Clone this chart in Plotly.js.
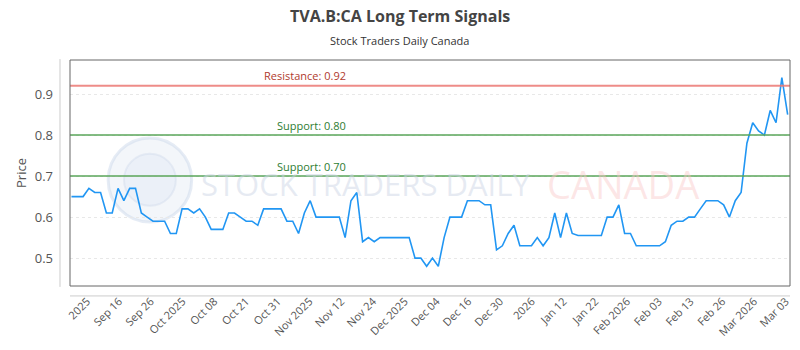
<!DOCTYPE html>
<html>
<head>
<meta charset="utf-8">
<script src="https://cdn.plot.ly/plotly-3.0.1.min.js"></script>
<style>html,body{margin:0;padding:0;background:#fff;}#chart{width:800px;height:350px;}</style>
</head>
<body>
<div id="chart"></div>
<script>
// ---- data ----
const prices = [
  0.65,0.65,0.65,0.67,0.66,0.66,0.61,0.61,0.67,0.64,
  0.67,0.67,0.61,0.60,0.59,0.59,0.59,0.56,0.56,0.62,
  0.62,0.61,0.62,0.60,0.57,0.57,0.57,0.61,0.61,0.60,
  0.59,0.59,0.58,0.62,0.62,0.62,0.62,0.59,0.59,0.56,
  0.61,0.64,0.60,0.60,0.60,0.60,0.60,0.55,0.64,0.66,
  0.54,0.55,0.54,0.55,0.55,0.55,0.55,0.55,0.55,0.50,
  0.50,0.48,0.50,0.48,0.55,0.60,0.60,0.60,0.64,0.64,
  0.64,0.63,0.63,0.52,0.53,0.56,0.58,0.53,0.53,0.53,
  0.55,0.53,0.55,0.61,0.55,0.61,0.56,0.555,0.555,0.555,
  0.555,0.555,0.60,0.60,0.63,0.56,0.56,0.53,0.53,0.53,
  0.53,0.53,0.54,0.58,0.59,0.59,0.60,0.60,0.62,0.64,
  0.64,0.64,0.63,0.60,0.64,0.66,0.78,0.83,0.81,0.80,
  0.86,0.83,0.94,0.85
];
const tickLabels = ["2025","Sep 16","Sep 26","Oct 2025","Oct 08","Oct 21","Oct 31","Nov 2025","Nov 12","Nov 24","Dec 2025","Dec 04","Dec 16","Dec 30","2026","Jan 12","Jan 22","Feb 2026","Feb 03","Feb 13","Feb 26","Mar 2026","Mar 03"];
const resistanceLevels = [0.92];
const supportLevels = [0.80, 0.70];
const titleText = "TVA.B:CA Long Term Signals";
const subtitleText = "Stock Traders Daily Canada";

// ---- build ----
const xIdx = prices.map((_, i) => i);
const n = prices.length;
const firstTick = 2.7, lastTick = n - 1.3;
const tickVals = tickLabels.map((_, k) => firstTick + k * (lastTick - firstTick) / (tickLabels.length - 1));

const shapes = [];
const annotations = [];

// watermark globe
shapes.push({type:'circle', xref:'paper', yref:'paper', x0:0.053, x1:0.169, y0:0.283, y1:0.655,
  fillcolor:'rgba(215,225,240,0.3)', line:{color:'rgba(200,212,232,0.45)', width:3}, layer:'below'});
shapes.push({type:'circle', xref:'paper', yref:'paper', x0:0.075, x1:0.147, y0:0.355, y1:0.585,
  fillcolor:'rgba(205,218,238,0.2)', line:{color:'rgba(200,212,232,0.35)', width:2}, layer:'below'});
annotations.push({xref:'paper', yref:'paper', x:0.41, y:0.45, xanchor:'center', yanchor:'middle', text:'STOCK TRADERS DAILY', showarrow:false,
  font:{family:'Open Sans, sans-serif', size:31, color:'rgba(205,214,230,0.5)'}});
annotations.push({xref:'paper', yref:'paper', x:0.768, y:0.45, xanchor:'center', yanchor:'middle', text:'CANADA', showarrow:false,
  font:{family:'Open Sans, sans-serif', size:38, color:'rgba(250,200,200,0.45)'}});

resistanceLevels.forEach(v => {
  shapes.push({type:'line', xref:'paper', yref:'y', x0:0, x1:1, y0:v, y1:v, line:{color:'rgba(235,120,115,0.85)', width:2}});
  annotations.push({xref:'paper', yref:'y', x:0.326, y:v, xanchor:'center', yanchor:'bottom', yshift:1, showarrow:false,
    text:'Resistance: ' + v.toFixed(2), font:{family:'Open Sans, sans-serif', size:11, color:'#b03a2e'}});
});
supportLevels.forEach(v => {
  shapes.push({type:'line', xref:'paper', yref:'y', x0:0, x1:1, y0:v, y1:v, line:{color:'rgba(90,165,90,0.75)', width:2}});
  annotations.push({xref:'paper', yref:'y', x:0.335, y:v, xanchor:'center', yanchor:'bottom', yshift:0, showarrow:false,
    text:'Support: ' + v.toFixed(2), font:{family:'Open Sans, sans-serif', size:11, color:'#2e7d32'}});
});

// frame and offset axis lines
shapes.push({type:'rect', xref:'paper', yref:'paper', x0:0, x1:1, y0:0, y1:1, line:{color:'#666', width:1}, fillcolor:'rgba(0,0,0,0)'});
shapes.push({type:'line', xref:'paper', yref:'paper', x0:-0.0139, x1:-0.0139, y0:-0.004, y1:1.004, line:{color:'#ccc', width:1}});
shapes.push({type:'line', xref:'paper', yref:'paper', x0:0, x1:1, y0:-0.044, y1:-0.044, line:{color:'#ccc', width:1}});

// titles
annotations.push({xref:'paper', yref:'paper', x:0.458, y:1, xanchor:'center', yshift:44, yanchor:'middle', showarrow:false,
  text:'<b>' + titleText + '</b>', font:{family:'Open Sans, sans-serif', size:16, color:'#444'}});
annotations.push({xref:'paper', yref:'paper', x:0.458, y:1, xanchor:'center', yshift:20, yanchor:'middle', showarrow:false,
  text:subtitleText, font:{family:'Open Sans, sans-serif', size:11, color:'#333'}});

const trace = {
  x: xIdx, y: prices, type:'scatter', mode:'lines',
  line:{color:'#2196f3', width:1.6}, hoverinfo:'skip'
};

const layout = {
  width:800, height:350,
  margin:{l:70, r:10, t:60, b:64},
  paper_bgcolor:'#fff', plot_bgcolor:'#fff',
  showlegend:false,
  font:{family:'Open Sans, sans-serif', color:'#555'},
  xaxis:{
    range:[-0.25, 123.4], tickmode:'array', tickvals:tickVals, ticktext:tickLabels,
    tickangle:-45, tickfont:{size:11, color:'#555'}, showgrid:false, zeroline:false,
    showline:false, ticks:'', ticklabelstandoff:6
  },
  yaxis:{
    range:[0.432, 0.983], tickvals:[0.5,0.6,0.7,0.8,0.9], ticktext:['0.5','0.6','0.7','0.8','0.9'],
    tickfont:{size:13, color:'#555'}, showgrid:true, gridcolor:'#e8e8e8', griddash:'dot', gridwidth:1,
    zeroline:false, showline:false, ticks:'', ticklabelstandoff:16,
    title:{text:'Price', font:{size:13, color:'#555'}, standoff:5}
  },
  shapes: shapes,
  annotations: annotations
};

Plotly.newPlot('chart', [trace], layout, {staticPlot:true, displayModeBar:false});
</script>
</body>
</html>
